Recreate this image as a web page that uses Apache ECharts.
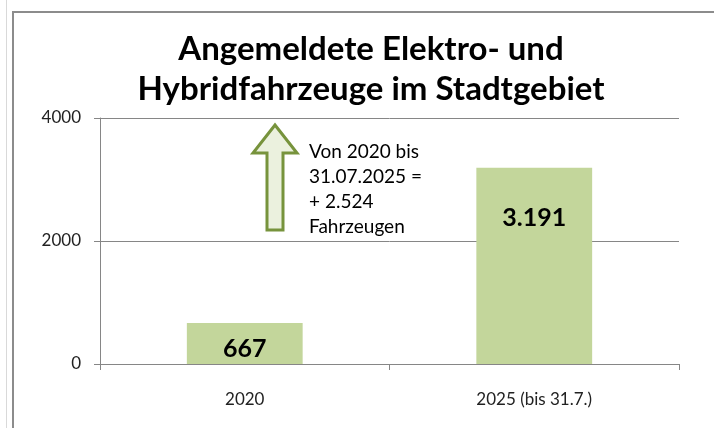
<!DOCTYPE html>
<html>
<head>
<meta charset="utf-8">
<script src="https://cdn.jsdelivr.net/npm/echarts@6/dist/echarts.min.js"></script>
<style>
  html, body { margin: 0; padding: 0; background: #fff; }
  #chart { width: 714px; height: 428px; }
</style>
</head>
<body>
<div id="chart"></div>
<script>
var categories = ['2020', '2025 (bis 31.7.)'];
var values = [667, 3191];
var valueLabels = ['667', '3.191'];
var yTicks = [0, 2000, 4000];
var noteLines = ['Von 2020 bis', '31.07.2025 =', '+ 2.524', 'Fahrzeugen'];

var font = 'Lato, "Noto Sans", sans-serif';
var labelDistance = [13, 38];

var chart = echarts.init(document.getElementById('chart'));
chart.setOption({
    backgroundColor: '#fff',
    animation: false,
    title: {
        text: 'Angemeldete Elektro- und\nHybridfahrzeuge im Stadtgebiet',
        left: 366,
        textAlign: 'center',
        top: 24,
        textStyle: {
            fontFamily: font,
            fontWeight: 'bold',
            fontSize: 33,
            lineHeight: 40,
            color: '#000'
        }
    },
    grid: { left: 100, right: 35, top: 118, bottom: 64 },
    xAxis: {
        type: 'category',
        data: categories,
        axisLine: { lineStyle: { color: '#868686' } },
        axisTick: { show: true, length: 6, lineStyle: { color: '#868686' } },
        axisLabel: { color: '#222', fontFamily: font, fontSize: 17, margin: 27 }
    },
    yAxis: {
        type: 'value',
        min: yTicks[0],
        max: yTicks[yTicks.length - 1],
        interval: yTicks[1] - yTicks[0],
        axisLine: { show: true, lineStyle: { color: '#868686' } },
        axisTick: { show: true, length: 6, lineStyle: { color: '#868686' } },
        axisLabel: {
            color: '#222', fontFamily: font, fontSize: 17, margin: 19,
            formatter: function (v) { return String(v); }
        },
        splitLine: { lineStyle: { color: '#868686' } }
    },
    series: [{
        type: 'bar',
        barWidth: '40%',
        itemStyle: { color: '#C3D69B' },
        data: values.map(function (v, i) {
            return {
                value: v,
                label: {
                    show: true,
                    position: 'insideTop',
                    distance: labelDistance[i],
                    formatter: valueLabels[i],
                    fontFamily: font,
                    fontWeight: 'bold',
                    fontSize: 25,
                    color: '#000'
                }
            };
        })
    }],
    graphic: [
        {
            type: 'line',
            shape: { x1: 6.5, y1: 0, x2: 6.5, y2: 428 },
            style: { stroke: '#d9d9d9', lineWidth: 1 }
        },
        {
            type: 'polyline',
            shape: { points: [[13, 428], [13, 12], [714, 12]] },
            style: { stroke: '#8c8c8c', lineWidth: 2, fill: null }
        },
        {
            type: 'polygon',
            shape: {
                points: [[275, 125], [297, 153], [283, 153], [283, 230],
                         [267, 230], [267, 153], [253, 153]]
            },
            style: { fill: '#EBF1DE', stroke: '#77933C', lineWidth: 3 }
        },
        {
            type: 'text',
            left: 309,
            top: 139,
            style: {
                text: noteLines.join('\n'),
                fontFamily: font,
                fontSize: 19,
                lineHeight: 25,
                fill: '#000'
            }
        }
    ]
});
</script>
</body>
</html>
